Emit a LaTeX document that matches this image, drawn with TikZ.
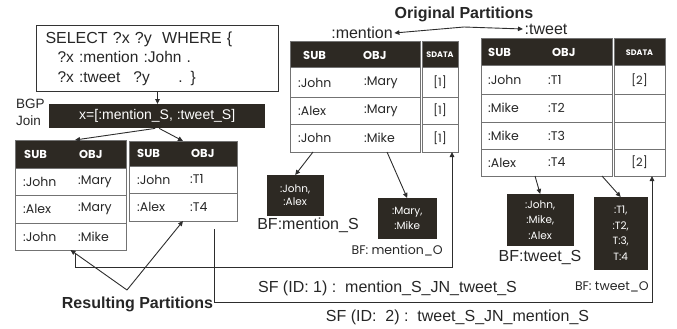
\documentclass[tikz,border=0pt]{standalone}
\usepackage{fontspec}
\setmainfont{Liberation Sans}
\newfontfamily\cg{Poppins}
\usetikzlibrary{arrows.meta}
\definecolor{dark}{RGB}{45,41,35}
\definecolor{tgray}{RGB}{115,115,115}
\definecolor{agray}{RGB}{45,45,45}
\begin{document}
\begin{tikzpicture}[x=1pt,y=-1pt,
  box/.style={draw=tgray,line width=1pt,anchor=north west,inner sep=0pt,outer sep=0pt},
  hdr/.style={box,fill=dark},
  cell/.style={font=\cg\fontsize{12.5}{14}\selectfont,anchor=west,inner sep=0pt,text=black!85},
  hcell/.style={font=\cg\bfseries\fontsize{11.5}{13}\selectfont,text=white,anchor=west,inner sep=0pt},
  scell/.style={font=\cg\bfseries\fontsize{8}{9}\selectfont,text=white,inner sep=0pt},
  dcell/.style={font=\cg\fontsize{11.5}{13}\selectfont,inner sep=0pt,text=black!85},
  bf/.style={fill=dark,draw=dark,anchor=north west,inner sep=0pt,text=white,align=center,font=\cg\fontsize{10.5}{15.5}\selectfont},
  lbl/.style={inner sep=0pt,font=\fontsize{16}{18}\selectfont,text=black!85},
  slbl/.style={inner sep=0pt,font=\cg\fontsize{12.5}{14}\selectfont,text=black!85},
  arr/.style={draw=agray,line width=0.9pt,-{Triangle[length=5pt,width=4.5pt]}}]
\useasboundingbox (0,0) rectangle (677,329);

% SPARQL query
\node[draw=black!80,line width=1pt,anchor=north west,minimum width=242pt,minimum height=66pt,
  inner xsep=9pt,inner ysep=0pt,text width=224pt,align=left,font=\fontsize{15.5}{19.5}\selectfont,text=black!85] (sel) at (36,25)
  {{\fontsize{16}{19.5}\selectfont SELECT ?x ?y\ \ WHERE \{}\\
   \hspace*{12pt}?x :mention :John .\\
   \hspace*{12pt}\makebox[76pt][l]{?x :tweet}\makebox[45pt][l]{?y}. \}};

% BGP join
\node[anchor=west,inner sep=0pt,font=\fontsize{13.5}{17}\selectfont,align=left,text=black!85] (bgpl) at (16,112.5) {BGP\\Join};
\node[fill=dark,anchor=north west,minimum width=216pt,minimum height=24pt,inner sep=0pt,text=white,font=\fontsize{14}{16}\selectfont] (bgp) at (49,104) {x=[:mention\_S, :tweet\_S]};

% Result table 1
\foreach \i/\y/\h/\a/\b in {1/168/27/:John/:Mary,2/195/28/:Alex/:Mary,3/223/27/:John/:Mike}{
  \node[box,minimum width=111pt,minimum height=\h*1pt] (r1r\i) at (15,\y) {};
  \node[cell] (r1a\i) at (23,\y+\h/2) {\a};
  \node[cell] (r1b\i) at (78,\y+\h/2) {\b};
}
\node[hdr,minimum width=111pt,minimum height=28pt] (r1h) at (15,140) {};
\node[hcell] (r1hs) at (24,154) {SUB};
\node[hcell] (r1ho) at (79,154) {OBJ};

% Result table 2
\foreach \i/\y/\h/\a/\b in {1/166/27/:John/:T1,2/193/28/:Alex/:T4}{
  \node[box,minimum width=108pt,minimum height=\h*1pt] (r2r\i) at (129,\y) {};
  \node[cell] (r2a\i) at (137,\y+\h/2) {\a};
  \node[cell] (r2b\i) at (190,\y+\h/2) {\b};
}
\node[hdr,minimum width=108pt,minimum height=25pt] (r2h) at (129,141) {};
\node[hcell] (r2hs) at (137,153.5) {SUB};
\node[hcell] (r2ho) at (191,153.5) {OBJ};

% mention table
\foreach \i/\y/\h/\a/\b in {1/68/29/:John/:Mary,2/97/27/:Alex/:Mary,3/124/28/:John/:Mike}{
  \node[box,minimum width=130pt,minimum height=\h*1pt] (mr\i) at (290,\y) {};
  \node[cell] (ma\i) at (298,\y+\h/2) {\a};
  \node[cell] (mb\i) at (364,\y+\h/2) {\b};
  \node[box,minimum width=36pt,minimum height=\h*1pt] (ms\i) at (422,\y) {};
  \node[dcell] (md\i) at (440,\y+\h/2) {[1]};
}
\node[hdr,minimum width=130pt,minimum height=26pt] (mh) at (290,42) {};
\node[hcell] (mhs) at (303,55) {SUB};
\node[hcell] (mho) at (363,55) {OBJ};
\node[hdr,minimum width=36pt,minimum height=26pt] (msh) at (422,42) {};
\node[scell] (msht) at (440,55) {SDATA};

% tweet table
\foreach \i/\y/\h/\a/\b/\c in {1/66/28/:John/:T1/[2],2/94/28/:Mike/:T2/{},3/122/27/:Mike/:T3/{},4/149/27/:Alex/:T4/[2]}{
  \node[box,minimum width=131pt,minimum height=\h*1pt] (tr\i) at (481,\y) {};
  \node[cell] (ta\i) at (488,\y+\h/2) {\a};
  \node[cell] (tb\i) at (548,\y+\h/2) {\b};
  \node[box,minimum width=51pt,minimum height=\h*1pt] (ts\i) at (614,\y) {};
  \node[dcell] (td\i) at (639.5,\y+\h/2) {\c};
}
\node[hdr,minimum width=131pt,minimum height=27pt] (th) at (481,39) {};
\node[hcell] (ths) at (488,52.5) {SUB};
\node[hcell] (tho) at (552,52.5) {OBJ};
\node[hdr,minimum width=51pt,minimum height=27pt] (tsh) at (614,39) {};
\node[scell] (tsht) at (639.5,52.5) {SDATA};

% Bloom filters
\node[bf,minimum width=56pt,minimum height=40pt,font=\cg\fontsize{10.5}{13.5}\selectfont] (bms) at (267,175) {:John,\\:Alex};
\node[bf,minimum width=58pt,minimum height=40pt] (bmo) at (378,198) {:Mary,\\:Mike};
\node[bf,minimum width=66pt,minimum height=51pt] (bts) at (507,194) {:John,\\:Mike,\\:Alex};
\node[bf,minimum width=53pt,minimum height=72pt] (bto) at (594,197) {:T1,\\:T2,\\T:3,\\T:4};
\node[lbl] (lbms) at (308,225) {BF:mention\_S};
\node[slbl,anchor=east] (lbmo) at (443,251) {BF: mention\_O};
\node[lbl] (lbts) at (540,258) {BF:tweet\_S};
\node[slbl,anchor=east] (lbto) at (649,287) {BF: tweet\_O};

% titles
\node[inner sep=0pt,font=\bfseries\fontsize{16}{18}\selectfont,text=black!85] (orig) at (464,14) {Original Partitions};
\node[lbl,inner sep=1.5pt] (ment) at (362,33) {:mention};
\node[lbl,inner sep=1.5pt] (twt) at (546,29) {:tweet};
\coordinate (op) at (464,27);
\node[inner sep=0pt,font=\bfseries\fontsize{16}{18}\selectfont,text=black!85] (res) at (137.5,304) {Resulting Partitions};
\coordinate (ra) at (127,290);
\node[lbl] (sf1) at (387.5,288) {SF (ID: 1) :\ \ mention\_S\_JN\_tweet\_S};
\node[lbl] (sf2) at (457.5,317) {SF (ID:\ \ 2) :\ \ tweet\_S\_JN\_mention\_S};

% connectors
\draw[arr] (op) -- (ment.east);
\draw[arr] (op) -- (twt.west);
\draw[arr] (sel.south) -- (sel.south |- bgp.north);
\draw[arr] ([xshift=-2pt]bgp.south) -- ([xshift=4.5pt]r1h.north);
\draw[arr] ([xshift=2pt]bgp.south) -- (r2h.north);
\draw[arr] (ra) -- (r1r3.south);
\draw[arr] (ra) -- (r2r2.south);
\draw[arr] ([xshift=23pt]mr3.south west) -- (bms.north);
\draw[arr] ([xshift=97pt]mr3.south west) -- (bmo.north);
\draw[arr] ([xshift=54pt]tr4.south west) -- (bts.north);
\draw[arr] ([xshift=121pt]tr4.south west) -- (bto.north);
\draw[arr] ([xshift=4.5pt,yshift=-3pt]r1r3.south) -- ++(0,14) -| ([xshift=12pt]ms3.south);
\draw[arr] ([xshift=31pt,yshift=-8pt]r2r2.south) -- ++(0,73) -| ([xshift=12.5pt]ts4.south);
\end{tikzpicture}
\end{document}
